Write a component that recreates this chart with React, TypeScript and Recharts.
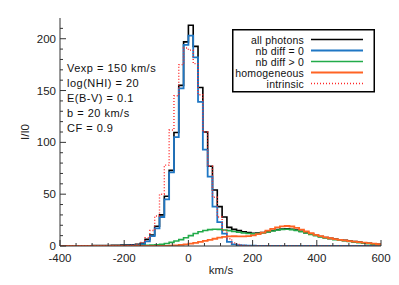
import React from 'react';
import { LineChart, Line, XAxis, YAxis } from 'recharts';

// Bin lower edges (km/s), 15 km/s bins; the first bin is clipped at -400
const binWidth = 15;
const binCount = 67;
const binLow: number[] = Array.from({ length: binCount }, (_, k) => Math.max(-400, -405 + binWidth * k));
const lastEdge = 600;

const allPhotons = [
  0.2, 0.2, 0.2, 0.3, 0.2, 0.3, 0.3, 0.4, 0.4, 0.5, 0.5, 0.6, 0.7, 0.8, 1.0, 1.2, 1.6, 2.6, 6.4, 10.6,
  19, 30, 48, 73, 109.5, 155, 197, 213, 192.6, 153, 110, 77, 54, 38, 28, 18, 16, 14.8, 13.8, 13,
  12.2, 12.4, 13, 13.9, 14.9, 15.8, 16.4, 16.6, 16.2, 15.4, 14.2, 12.9, 11.6, 10.4, 9.2, 8.2, 7.4, 6.6, 6, 5.4,
  4.8, 4.2, 3.7, 3.2, 2.7, 2.2, 1.7,
];
const nbDiff0 = [
  0.1, 0.1, 0.1, 0.1, 0.1, 0.1, 0.1, 0.1, 0.2, 0.2, 0.2, 0.2, 0.2, 0.3, 0.4, 0.6, 0.9, 1.8, 4.5, 9.5,
  17, 28, 45, 71, 105, 152, 194, 203, 182, 139, 93, 67, 38, 23, 12, 4, 1.5, 0.8, 0.5, 0.3,
  0.3, 0.2, 0.2, 0.2, 0.2, 0.2, 0.2, 0.2, 0.1, 0.1, 0.1, 0.1, 0.1, 0.1, 0.1, 0.1, 0.1, 0.1, 0.1, 0.1,
  0.1, 0.1, 0.1, 0.1, 0.1, 0.1, 0.1,
];
const nbDiffPos = [
  0.1, 0.1, 0.1, 0.1, 0.1, 0.1, 0.1, 0.1, 0.1, 0.1, 0.15, 0.15, 0.2, 0.2, 0.2, 0.3, 0.4, 0.5, 0.7, 0.9,
  1.2, 1.6, 2.4, 3.5, 4.8, 6.2, 8, 10, 12, 13.8, 15, 15.8, 16.2, 16, 15.5, 14.8, 14, 13.2, 12.5, 12,
  11.8, 12, 12.6, 13.5, 14.5, 15.4, 16, 16.2, 15.8, 15, 13.8, 12.5, 11.2, 10, 8.8, 7.8, 7, 6.2, 5.6, 5,
  4.4, 3.8, 3.3, 2.8, 2.3, 1.8, 1.3,
];
const homogeneous = [
  0, 0, 0, 0, 0, 0, 0, 0, 0, 0, 0, 0, 0, 0, 0, 0, 0, 0, 0, 0,
  0, 0, 0.1, 0.3, 0.6, 1, 1.5, 2.2, 3, 4, 5, 6, 7, 8, 8.8, 9.3, 9.4, 9.3, 9.3, 9.6,
  10.3, 11.5, 13, 14.8, 16.5, 18, 19, 19.3, 18.8, 17.5, 15.8, 14, 12.3, 10.8, 9.5, 8.4, 7.5, 6.7, 6, 5.4,
  4.8, 4.2, 3.7, 3.2, 2.7, 2.2, 1.7,
];
const intrinsic = [
  0, 0, 0, 0, 0, 0, 0, 0, 0, 0, 0, 0, 0, 0.1, 0.3, 0.8, 1.5, 3.5, 8, 15,
  29, 50, 78, 112, 145, 175, 191, 189, 176, 146, 110, 77, 47, 28, 15, 7, 3, 1.5, 0.6, 0.3,
  0.1, 0, 0, 0, 0, 0, 0, 0, 0, 0, 0, 0, 0, 0, 0, 0, 0, 0, 0, 0,
  0, 0, 0, 0, 0, 0, 0,
];

const xTicks = [-400, -350, -300, -250, -200, -150, -100, -50, 0, 50, 100, 150, 200, 250, 300, 350, 400, 450, 500, 550, 600];
const xMajor = [-400, -200, 0, 200, 400, 600];
const yTicks = [0, 10, 20, 30, 40, 50, 60, 70, 80, 90, 100, 110, 120, 130, 140, 150, 160, 170, 180, 190, 200, 210];
const yMajor = [0, 50, 100, 150, 200];

const annotations = ['Vexp = 150 km/s', 'log(NHI) = 20', 'E(B-V) = 0.1', 'b = 20 km/s', 'CF = 0.9'];

const series = [
  { key: 'all', name: 'all photons', color: '#000000', width: 1.6, dash: undefined as string | undefined },
  { key: 'nb0', name: 'nb diff = 0', color: '#1f77c4', width: 1.8, dash: undefined },
  { key: 'nbp', name: 'nb diff > 0', color: '#22ab4a', width: 1.6, dash: undefined },
  { key: 'hom', name: 'homogeneous', color: '#ff6424', width: 1.8, dash: undefined },
  { key: 'int', name: 'intrinsic', color: '#ff2828', width: 1.4, dash: '1 2' },
];

const valueArrays: Record<string, number[]> = {
  all: allPhotons,
  nb0: nbDiff0,
  nbp: nbDiffPos,
  hom: homogeneous,
  int: intrinsic,
};

const rows: Record<string, number>[] = binLow.map((v, i) => {
  const r: Record<string, number> = { v };
  for (const s of series) r[s.key] = valueArrays[s.key][i];
  return r;
});
{
  const r: Record<string, number> = { v: lastEdge };
  for (const s of series) r[s.key] = valueArrays[s.key][binCount - 1];
  rows.push(r);
}

const W = 399;
const H = 285;
const AX = '#333333';
const FONT = '"Liberation Sans", Arial, sans-serif';

const XTickBottom = (p: any) => {
  const { x, y, payload } = p;
  const major = xMajor.includes(payload.value);
  return (
    <g>
      <line x1={x} x2={x} y1={y} y2={y - (major ? 6 : 3)} stroke={AX} strokeWidth={1} />
      {major && (
        <text x={x} y={y + 12} textAnchor="middle" dominantBaseline="central" fontSize={11.5} fill="#222" fontFamily={FONT}>
          {String(payload.value)}
        </text>
      )}
    </g>
  );
};
const XTickTop = (p: any) => {
  const { x, y, payload } = p;
  const major = xMajor.includes(payload.value);
  return <line x1={x} x2={x} y1={y} y2={y + (major ? 6 : 3)} stroke={AX} strokeWidth={1} />;
};
const YTickLeft = (p: any) => {
  const { x, y, payload } = p;
  const major = yMajor.includes(payload.value);
  return (
    <g>
      <line x1={x} x2={x + (major ? 6 : 3)} y1={y} y2={y} stroke={AX} strokeWidth={1} />
      {major && (
        <text x={x - 4} y={y} textAnchor="end" dominantBaseline="central" fontSize={11.5} fill="#222" fontFamily={FONT}>
          {String(payload.value)}
        </text>
      )}
    </g>
  );
};
const YTickRight = (p: any) => {
  const { x, y, payload } = p;
  const major = yMajor.includes(payload.value);
  return <line x1={x} x2={x - (major ? 6 : 3)} y1={y} y2={y} stroke={AX} strokeWidth={1} />;
};

export default function App() {
  return (
    <div style={{ position: 'absolute', left: 0, top: 0, width: W, height: H, background: '#fff', fontFamily: FONT }}>
      <LineChart width={W} height={H} data={rows} margin={{ top: 18, right: 18, bottom: 0, left: 0 }}>
        <XAxis
          dataKey="v"
          type="number"
          domain={[-400, 600]}
          ticks={xTicks}
          interval={0}
          allowDataOverflow
          height={39}
          tickSize={0}
          tickMargin={0}
          tickLine={false}
          axisLine={{ stroke: AX }}
          tick={(p: any) => <XTickBottom {...p} />}
        />
        <XAxis
          xAxisId="top"
          orientation="top"
          dataKey="v"
          type="number"
          domain={[-400, 600]}
          ticks={xTicks}
          interval={0}
          allowDataOverflow
          height={0}
          tickSize={0}
          tickMargin={0}
          tickLine={false}
          axisLine={{ stroke: AX }}
          tick={(p: any) => <XTickTop {...p} />}
        />
        <YAxis
          type="number"
          domain={[0, 220]}
          ticks={yTicks}
          interval={0}
          allowDataOverflow
          width={60}
          tickSize={0}
          tickMargin={0}
          tickLine={false}
          axisLine={{ stroke: AX }}
          tick={(p: any) => <YTickLeft {...p} />}
        />
        <YAxis
          yAxisId="right"
          orientation="right"
          type="number"
          domain={[0, 220]}
          ticks={yTicks}
          interval={0}
          allowDataOverflow
          width={0}
          tickSize={0}
          tickMargin={0}
          tickLine={false}
          axisLine={{ stroke: AX }}
          tick={(p: any) => <YTickRight {...p} />}
        />
        <Line
          xAxisId="top"
          yAxisId="right"
          dataKey="all"
          stroke="none"
          dot={false}
          activeDot={false}
          isAnimationActive={false}
          legendType="none"
        />
        {series.map((s) => (
          <Line
            key={s.key}
            type="stepAfter"
            dataKey={s.key}
            name={s.name}
            stroke={s.color}
            strokeWidth={s.width}
            strokeDasharray={s.dash}
            dot={false}
            activeDot={false}
            isAnimationActive={false}
          />
        ))}
      </LineChart>
      <svg width={W} height={H} style={{ position: 'absolute', left: 0, top: 0, pointerEvents: 'none' }}>
        {annotations.map((t, i) => (
          <text key={t} x={67} y={68 + i * 15} dominantBaseline="central" fontSize={11} letterSpacing={0.5} fill="#111" fontFamily={FONT}>
            {t}
          </text>
        ))}
        <text x={221} y={270} textAnchor="middle" dominantBaseline="central" fontSize={11.5} fill="#222" fontFamily={FONT}>
          km/s
        </text>
        <text
          x={25}
          y={132}
          textAnchor="middle"
          dominantBaseline="central"
          fontSize={11.5}
          fill="#222"
          fontFamily={FONT}
          transform="rotate(-90 25 132)"
        >
          I/I0
        </text>
        <g transform="translate(232,29)">
          <rect x={0.75} y={0.75} width={141.5} height={62} fill="#fff" stroke="#000" strokeWidth={1.5} />
          {series.map((s, i) => (
            <g key={s.key}>
              <text x={72} y={10.5 + i * 11} textAnchor="end" dominantBaseline="central" fontSize={10.5} letterSpacing={0.2} fill="#111" fontFamily={FONT}>
                {s.name}
              </text>
              <line x1={79} x2={131} y1={10.5 + i * 11} y2={10.5 + i * 11} stroke={s.color} strokeWidth={s.width} strokeDasharray={s.dash} />
            </g>
          ))}
        </g>
      </svg>
    </div>
  );
}
